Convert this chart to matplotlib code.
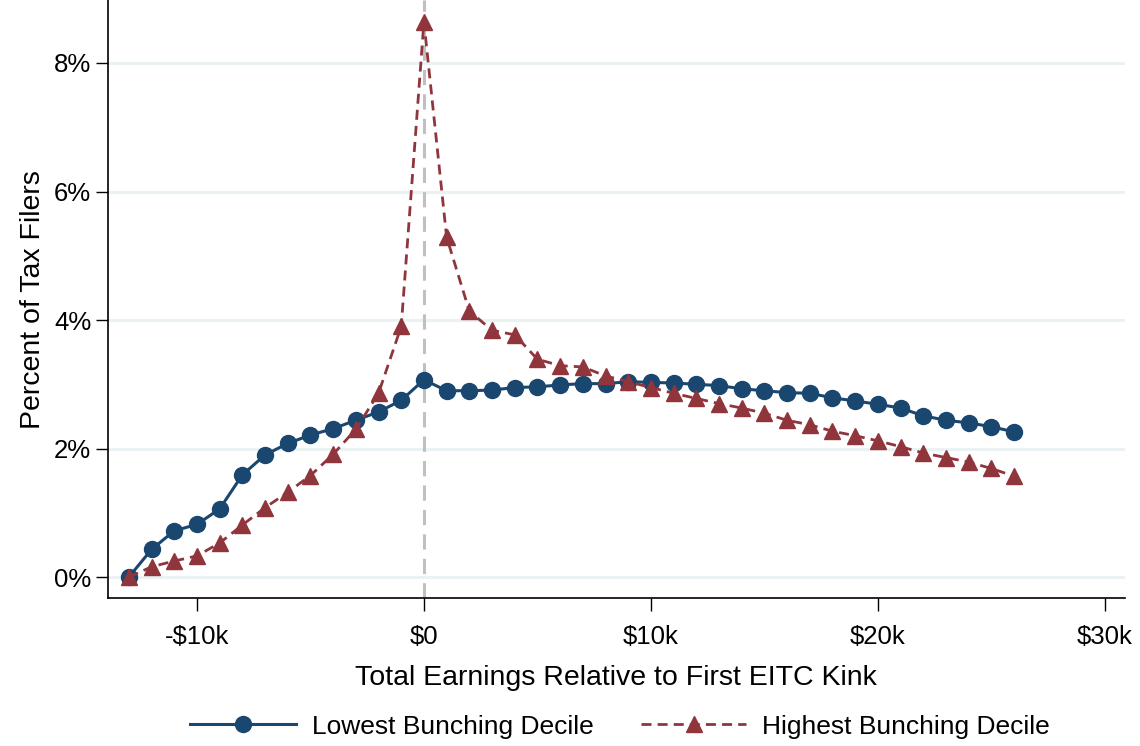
import matplotlib
matplotlib.use("Agg")
import matplotlib.pyplot as plt

plt.rcParams['font.family'] = ['Liberation Sans', 'DejaVu Sans']

earnings_k = list(range(-13, 27))
lowest = [0.00, 0.43, 0.72, 0.82, 1.06, 1.59, 1.90, 2.08, 2.21, 2.31, 2.44, 2.57, 2.75,
          3.07, 2.90, 2.90, 2.91, 2.95, 2.96, 2.99, 3.01, 3.01, 3.04, 3.03,
          3.02, 3.00, 2.98, 2.93, 2.90, 2.87, 2.86, 2.79, 2.74, 2.69, 2.63,
          2.51, 2.44, 2.40, 2.34, 2.26]
highest = [0.00, 0.16, 0.25, 0.33, 0.53, 0.81, 1.08, 1.32, 1.58, 1.91, 2.30, 2.86, 3.90,
           8.64, 5.29, 4.14, 3.84, 3.77, 3.39, 3.29, 3.27, 3.13, 3.04, 2.95,
           2.86, 2.78, 2.70, 2.63, 2.55, 2.44, 2.37, 2.27, 2.20, 2.12, 2.03, 1.93,
           1.86, 1.79, 1.69, 1.57]

xticks = [-10, 0, 10, 20, 30]
xticklabels = ['-$10k', '$0', '$10k', '$20k', '$30k']
yticks = [0, 2, 4, 6, 8]
yticklabels = ['0%', '2%', '4%', '6%', '8%']

blue = '#1a476f'
red = '#90353b'

fig = plt.figure(figsize=(11.4, 7.46), dpi=100)
ax = fig.add_axes([0.0947, 0.198, 0.892, 0.802])

for y in yticks:
    ax.axhline(y, color='#eaf2f3', lw=2.2, zorder=0)
ax.axvline(0, color='#c0c0c0', lw=2.2, ls=(0, (5, 3)), zorder=1)

ax.plot(earnings_k, lowest, color=blue, lw=2.2, marker='o', ms=11.5,
        label='Lowest Bunching Decile', zorder=3)
ax.plot(earnings_k, highest, color=red, lw=2.0, ls=(0, (3.6, 2.2)), marker='^', ms=11.5,
        label='Highest Bunching Decile', zorder=4)

ax.set_xlim(-13.92, 30.88)
ax.set_ylim(-0.33, 8.98)
ax.set_xticks(xticks)
ax.set_xticklabels(xticklabels)
ax.set_yticks(yticks)
ax.set_yticklabels(yticklabels)
ax.tick_params(axis='both', labelsize=18.5, length=9, width=1, direction='out')
ax.tick_params(axis='x', pad=10)
ax.tick_params(axis='y', pad=3)
for s in ['top', 'right']:
    ax.spines[s].set_visible(False)
for s in ['left', 'bottom']:
    ax.spines[s].set_linewidth(1.2)

ax.set_xlabel('Total Earnings Relative to First EITC Kink', fontsize=20.5, labelpad=12)
ax.set_ylabel('Percent of Tax Filers', fontsize=20.5, labelpad=6)

leg = fig.legend(loc='center', bbox_to_anchor=(0.544, 0.026), ncol=2, frameon=False,
                 fontsize=19, handlelength=4.0, columnspacing=1.8, handletextpad=0.6)

fig.savefig('out.png', dpi=100)
